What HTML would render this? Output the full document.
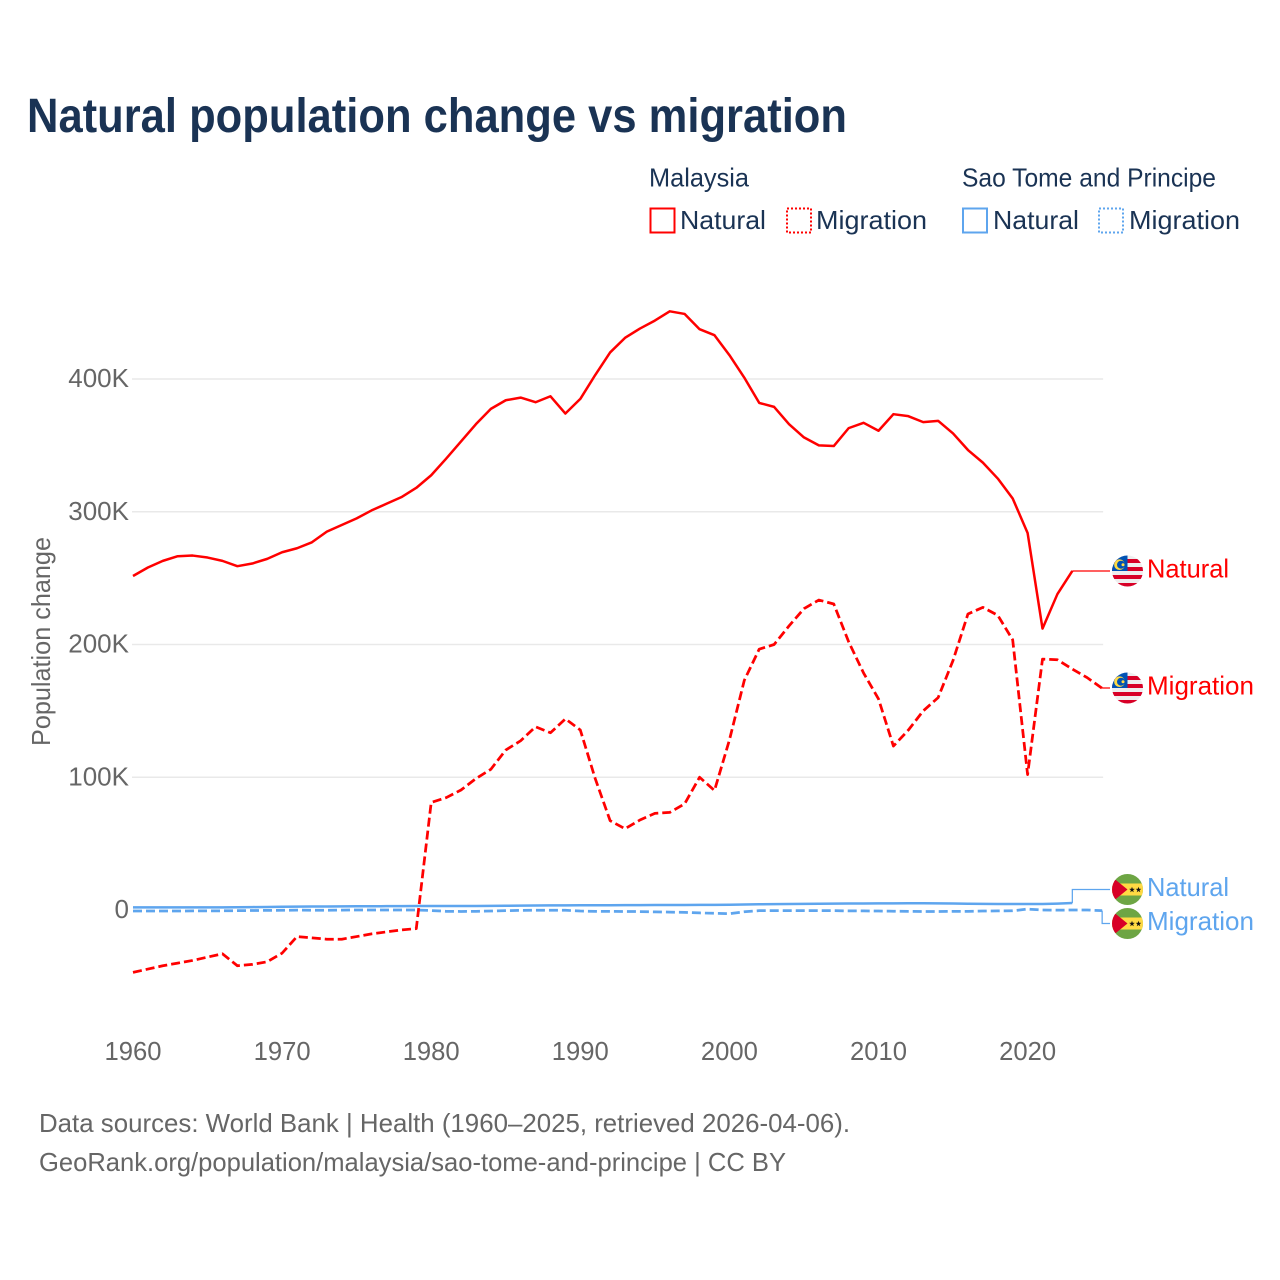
<!DOCTYPE html>
<html lang="en">
<head>
<meta charset="utf-8">
<title>Natural population change vs migration</title>
<style>
html,body{margin:0;padding:0;background:#fff;width:1280px;height:1280px;overflow:hidden}
svg{display:block}
text{font-family:"Liberation Sans",sans-serif}
.legend{font-size:26px;fill:#1a3354}
.tick{font-size:26px;fill:#666}
.src{font-size:26px;fill:#666}
.lab{font-size:26px}
</style>
</head>
<body>
<svg id="chart" width="1280" height="1280" viewBox="0 0 1280 1280" xmlns="http://www.w3.org/2000/svg">
<defs>
<clipPath id="flag-clip"><circle cx="0" cy="0" r="15.5"/></clipPath>
<polygon id="flag-star" points="0,-3 0.7,-1 2.85,-0.93 1.14,0.37 1.76,2.43 0,1.2 -1.76,2.43 -1.14,0.37 -2.85,-0.93 -0.7,-1" fill="#111"/>
<g id="flag-my">
<g clip-path="url(#flag-clip)">
<rect x="-16" y="-16" width="32" height="32" fill="#eee"/>
<rect x="-16" y="-12" width="32" height="4" fill="#d80027"/>
<rect x="-16" y="-4" width="32" height="4" fill="#d80027"/>
<rect x="-16" y="4" width="32" height="4" fill="#d80027"/>
<rect x="-16" y="12" width="32" height="4" fill="#d80027"/>
<rect x="-16" y="-16" width="16" height="16" fill="#0052b4"/>
<circle cx="-8" cy="-6.3" r="5.3" fill="#ffda44"/>
<circle cx="-6.5" cy="-6.3" r="4" fill="#0052b4"/>
<circle cx="-4.5" cy="-6.3" r="1.5" fill="#ffda44"/>
</g>
</g>
<g id="flag-st">
<g clip-path="url(#flag-clip)">
<rect x="-16" y="-16" width="32" height="32" fill="#6da544"/>
<rect x="-16" y="-6" width="32" height="12" fill="#ffda44"/>
<polygon points="-16,-13 0,0 -16,13" fill="#d80027"/>
<use href="#flag-star" transform="translate(4.5,0.3)"/>
<use href="#flag-star" transform="translate(11,0.3)"/>
</g>
</g>
</defs>

<text x="27" y="132" font-size="48" font-weight="700" fill="#1a3354" textLength="820" lengthAdjust="spacingAndGlyphs">Natural population change vs migration</text>

<g>
<text class="legend" x="649" y="186.5" textLength="100" lengthAdjust="spacingAndGlyphs">Malaysia</text>
<text class="legend" x="962" y="186.5" textLength="254" lengthAdjust="spacingAndGlyphs">Sao Tome and Principe</text>
<g>
<rect x="650.5" y="208.5" width="24" height="24" fill="none" stroke="#ff0000" stroke-width="2"/>
<text class="legend" x="680" y="229" textLength="86" lengthAdjust="spacingAndGlyphs">Natural</text>
</g>
<g>
<rect x="787" y="208.5" width="24" height="24" fill="none" stroke="#ff0000" stroke-width="2" stroke-dasharray="2 2"/>
<text class="legend" x="816" y="229" textLength="111" lengthAdjust="spacingAndGlyphs">Migration</text>
</g>
<g>
<rect x="963" y="208.5" width="24" height="24" fill="none" stroke="#5ea5ee" stroke-width="2"/>
<text class="legend" x="993" y="229" textLength="86" lengthAdjust="spacingAndGlyphs">Natural</text>
</g>
<g>
<rect x="1099" y="208.5" width="24" height="24" fill="none" stroke="#5ea5ee" stroke-width="2" stroke-dasharray="2 2"/>
<text class="legend" x="1129" y="229" textLength="111" lengthAdjust="spacingAndGlyphs">Migration</text>
</g>
</g>

<text class="tick" transform="translate(50,746) rotate(-90)" x="0" y="0" textLength="209" lengthAdjust="spacingAndGlyphs">Population change</text>

<g id="grid"></g>
<g id="yticks"></g>
<g id="xticks"></g>
<g id="series"></g>
<g id="labels"></g>

<text class="src" x="39" y="1132" textLength="811" lengthAdjust="spacingAndGlyphs">Data sources: World Bank | Health (1960–2025, retrieved 2026-04-06).</text>
<text class="src" x="39" y="1171" textLength="747" lengthAdjust="spacingAndGlyphs">GeoRank.org/population/malaysia/sao-tome-and-principe | CC BY</text>
</svg>

<script>
const startYear = 1960;
const xTickYears = [1960, 1970, 1980, 1990, 2000, 2010, 2020];
const yTickValues = [0, 100, 200, 300, 400];
const yTickLabels = ["0", "100K", "200K", "300K", "400K"];

// values in thousands, yearly from 1960
const malaysiaNatural = [251.6,258,263,266.5,267,265.5,263,259,261,264.5,269.5,272.5,277,285,290,295,301,306,311,318,327.5,340,353,366,377.5,384,386,382.5,387,374,385,403,420,431,438,444,451,449,437.5,433,418,401,382,379,366,356,350,349.5,363,367,361,373.5,372,367.5,368.5,359,346.5,337,325,310,284,212,238,255.4];
const malaysiaMigration = [-47,-44.5,-42,-40,-38,-35.5,-33,-42,-41,-39,-32.5,-20,-21,-22,-22,-20,-18,-16.5,-15,-14,81,84.6,90.4,99,106,120.5,127.5,138,133.5,144,135.6,99,67.3,61.2,67.8,72.8,73.5,80,100,90,128,173,196.5,200,214,227,233.5,230.5,202,178.5,159,123.5,135.5,150,160,188,223,228,222,203.5,102,189,188.5,181.5,175,167];
const saoTomeNatural = [2,2,2,2,2,2,2,2.1,2.2,2.3,2.4,2.5,2.6,2.6,2.7,2.8,2.8,2.9,2.9,3,3,3,3,3,3.1,3.2,3.3,3.4,3.5,3.5,3.6,3.6,3.6,3.7,3.7,3.8,3.8,3.8,3.9,3.9,4,4.1,4.3,4.4,4.5,4.6,4.7,4.8,4.9,4.9,5,5,5.1,5.1,5,4.9,4.7,4.6,4.5,4.5,4.5,4.5,4.8,5.3];
const saoTomeMigration = [-0.8,-0.8,-0.8,-0.8,-0.7,-0.7,-0.6,-0.5,-0.4,-0.3,-0.2,-0.1,-0.2,-0.2,-0.1,0,0,0,0,0,-0.4,-1,-1.1,-1,-0.8,-0.5,-0.3,-0.2,-0.2,-0.2,-0.8,-1,-1,-1.1,-1.2,-1.4,-1.6,-1.8,-2.2,-2.5,-2.8,-1.3,-0.5,-0.5,-0.5,-0.5,-0.5,-0.5,-0.7,-0.7,-0.8,-0.9,-1,-1.1,-1.1,-1,-1,-0.8,-0.7,-0.6,0.7,0,-0.1,0,0,-0.5];

const SVG_NS = "http://www.w3.org/2000/svg";
const x = function (year) { return 133 + (year - startYear) * 14.91; };
const y = function (v) { return 910 - v * 1.3275; };
const xOfIndex = function (i) { return x(startYear + i); };

const gridG = document.getElementById("grid");
const yTickG = document.getElementById("yticks");
const xTickG = document.getElementById("xticks");
const seriesG = document.getElementById("series");
const labelsG = document.getElementById("labels");

yTickValues.forEach(function (v, i) {
  if (v !== 0) {
    const line = document.createElementNS(SVG_NS, "line");
    
    
    line.setAttribute("x1", x(startYear) - 1);
    line.setAttribute("x2", x(2025) + 1);
    line.setAttribute("y1", y(v));
    line.setAttribute("y2", y(v));
    line.setAttribute("stroke", "#e9e9e9");
    line.setAttribute("stroke-width", "1.5");
    gridG.appendChild(line);
  }
  const t = document.createElementNS(SVG_NS, "text");
  
  
  t.setAttribute("class", "tick");
  t.setAttribute("x", 129);
  t.setAttribute("y", y(v) + 8);
  t.setAttribute("text-anchor", "end");
  t.textContent = yTickLabels[i];
  yTickG.appendChild(t);
});

xTickYears.forEach(function (yr) {
  const t = document.createElementNS(SVG_NS, "text");
  
  
  t.setAttribute("class", "tick");
  t.setAttribute("x", x(yr));
  t.setAttribute("y", 1060);
  t.setAttribute("text-anchor", "middle");
  t.setAttribute("textLength", "57");
  t.setAttribute("lengthAdjust", "spacingAndGlyphs");
  t.textContent = String(yr);
  xTickG.appendChild(t);
});

function pathFrom(values) {
  return values.map(function (v, i) {
    return (i ? "L" : "M") + xOfIndex(i).toFixed(2) + " " + y(v).toFixed(2);
  }).join(" ");
}

const seriesDefs = [
  { values: saoTomeMigration, color: "#5ea5ee", dash: "9 4", name: "line-sao-tome-migration" },
  { values: saoTomeNatural, color: "#5ea5ee", dash: "", name: "line-sao-tome-natural" },
  { values: malaysiaMigration, color: "#ff0000", dash: "9 4", name: "line-malaysia-migration" },
  { values: malaysiaNatural, color: "#ff0000", dash: "", name: "line-malaysia-natural" }
];

seriesDefs.forEach(function (s) {
  const p = document.createElementNS(SVG_NS, "path");
  
  
  p.setAttribute("d", pathFrom(s.values));
  p.setAttribute("fill", "none");
  p.setAttribute("stroke", s.color);
  p.setAttribute("stroke-width", s.dash ? "2.75" : "2.5");
  p.setAttribute("stroke-linejoin", "round");
  if (s.dash) { p.setAttribute("stroke-dasharray", s.dash); }
  seriesG.appendChild(p);
});

const endLabels = [
  { values: malaysiaNatural, color: "#ff0000", flag: "#flag-my", text: "Natural", width: 82, labelY: 571, name: "malaysia-natural" },
  { values: malaysiaMigration, color: "#ff0000", flag: "#flag-my", text: "Migration", width: 107, labelY: 688, name: "malaysia-migration" },
  { values: saoTomeNatural, color: "#5ea5ee", flag: "#flag-st", text: "Natural", width: 82, labelY: 889.5, name: "sao-tome-natural" },
  { values: saoTomeMigration, color: "#5ea5ee", flag: "#flag-st", text: "Migration", width: 107, labelY: 923.5, name: "sao-tome-migration" }
];

endLabels.forEach(function (d) {
  const lastI = d.values.length - 1;
  const x0 = xOfIndex(lastI);
  const y0 = y(d.values[lastI]);
  const conn = document.createElementNS(SVG_NS, "path");
  
  
  conn.setAttribute("d", "M" + x0 + " " + y0 + " L" + x0 + " " + d.labelY + " L1110 " + d.labelY);
  conn.setAttribute("fill", "none");
  conn.setAttribute("stroke", d.color);
  conn.setAttribute("stroke-width", "1.25");
  labelsG.appendChild(conn);

  const flag = document.createElementNS(SVG_NS, "use");
  
  
  flag.setAttribute("href", d.flag);
  flag.setAttribute("transform", "translate(1127.5," + d.labelY + ")");
  labelsG.appendChild(flag);

  const t = document.createElementNS(SVG_NS, "text");
  
  
  t.setAttribute("class", "lab");
  t.setAttribute("x", 1147);
  t.setAttribute("y", d.labelY + 6.5);
  t.setAttribute("fill", d.color);
  t.setAttribute("textLength", d.width);
  t.setAttribute("lengthAdjust", "spacingAndGlyphs");
  t.textContent = d.text;
  labelsG.appendChild(t);
});
</script>
</body>
</html>
